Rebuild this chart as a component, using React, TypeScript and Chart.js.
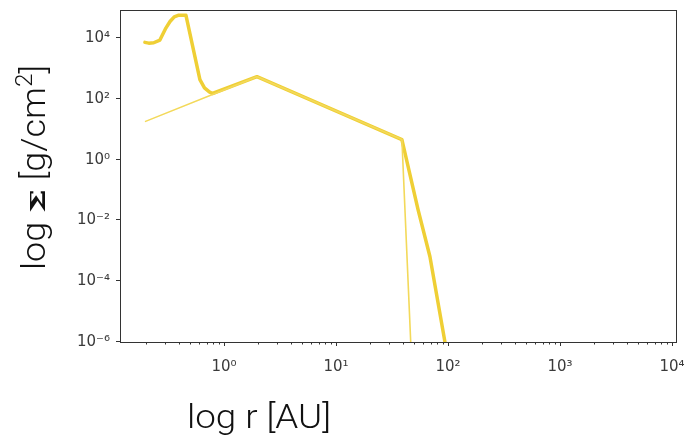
import React, { useEffect, useRef } from "react";
import { Chart, registerables } from "chart.js";

Chart.register(...registerables);

// Thick curve (r in AU, Sigma in g/cm^2)
const thickR = [0.197, 0.213, 0.236, 0.268, 0.3, 0.33, 0.36, 0.39, 0.458, 0.61, 0.67, 0.74, 0.79, 1.97, 38.8, 54, 69, 94, 110];
const thickSigma = [7200, 6800, 7000, 8600, 2.0e4, 3.5e4, 5.0e4, 5.6e4, 5.6e4, 430, 230, 170, 150, 537, 4.55, 0.023, 6.5e-4, 1.0e-6, 3.0e-8];

// Thin curve
const thinR = [0.197, 1.97, 38.8, 46.5, 48];
const thinSigma = [17.8, 537, 4.55, 1.0e-6, 1.0e-8];

// Axis tick values and labels
const xMajorTicks = [1, 10, 100, 1000, 10000];
const yMajorTicks = [1e-6, 1e-4, 1e-2, 1, 1e2, 1e4];
const xTickLabels = ["10⁰", "10¹", "10²", "10³", "10⁴"];
const yTickLabels = ["10⁻⁶", "10⁻⁴", "10⁻²", "10⁰", "10²", "10⁴"];

const X_MIN = 0.118;
const X_MAX = 1.109e4;
const Y_MIN = 1e-6;
const Y_MAX = 8.7e4;

const LINE_COLOR = "#efcf35";
const THIN_COLOR = "#f3d95a";

function drawFitted(ctx: CanvasRenderingContext2D, parts: [string, string, number, number][], cx: number, baseline: number, targetWidth: number) {
  let total = 0;
  for (const [t, f, , sx] of parts) {
    ctx.font = f;
    total += ctx.measureText(t).width * sx;
  }
  const k = targetWidth / total;
  let x = cx - targetWidth / 2;
  for (const [t, f, dy, sx] of parts) {
    ctx.font = f;
    const w = ctx.measureText(t).width * sx * k;
    ctx.save();
    ctx.translate(x, baseline + dy);
    ctx.scale(sx * k, 1);
    ctx.fillText(t, 0, 0);
    ctx.restore();
    x += w;
  }
}

const framePlugin = {
  id: "framePlugin",
  afterDraw(chart: any) {
    const ctx = chart.ctx;
    const { left, right, top, bottom } = chart.chartArea;
    const xs = chart.scales.x;
    const ys = chart.scales.y;
    ctx.save();
    ctx.strokeStyle = "#333";
    ctx.lineWidth = 1;
    ctx.strokeRect(Math.round(left) + 0.5, Math.round(top) + 0.5, Math.round(right - left) - 1, Math.round(bottom - top) - 1);
    const lo = Math.floor(Math.log10(X_MIN));
    const hi = Math.ceil(Math.log10(X_MAX));
    ctx.beginPath();
    for (let e = lo; e <= hi; e++) {
      for (let m = 1; m <= 9; m++) {
        const v = m * Math.pow(10, e);
        if (v < X_MIN || v > X_MAX) continue;
        const px = Math.round(xs.getPixelForValue(v)) + 0.5;
        const len = m === 1 ? 4 : 2.5;
        ctx.moveTo(px, Math.round(bottom));
        ctx.lineTo(px, Math.round(bottom) + len);
      }
    }
    for (const v of yMajorTicks) {
      const py = Math.round(ys.getPixelForValue(v)) - 0.5;
      ctx.moveTo(Math.round(left), py);
      ctx.lineTo(Math.round(left) - 4, py);
    }
    ctx.stroke();

    ctx.fillStyle = "#111";
    ctx.textBaseline = "alphabetic";
    const f1 = "300 34px Roboto";
    // x title
    drawFitted(ctx, [["log r [AU]", f1, 0, 1]], 259, 428, 144);

    // y title rotated
    ctx.save();
    ctx.translate(45, 167.5);
    ctx.rotate(-Math.PI / 2);
    drawFitted(
      ctx,
      [
        ["log ", f1, 0, 1],
        ["Σ", 'bold 20px "DejaVu Serif"', 0, 1.6],
        [" [g/cm", f1, 0, 1],
        ["2", "300 23px Roboto", -13, 1],
        ["]", f1, 0, 1],
      ],
      0,
      0,
      205
    );
    ctx.restore();
    ctx.restore();
  },
};

export default function App() {
  const ref = useRef<HTMLCanvasElement | null>(null);
  useEffect(() => {
    if (!ref.current) return;
    const thick = thickR.map((r, i) => ({ x: r, y: thickSigma[i] }));
    const thin = thinR.map((r, i) => ({ x: r, y: thinSigma[i] }));
    const chart = new Chart(ref.current, {
      type: "line",
      data: {
        datasets: [
          {
            data: thin,
            borderColor: THIN_COLOR,
            borderWidth: 1.6,
            pointRadius: 0,
            tension: 0,
          },
          {
            data: thick,
            borderColor: LINE_COLOR,
            borderWidth: 3.5,
            pointRadius: 0,
            tension: 0,
            borderJoinStyle: "round",
            borderCapStyle: "round",
          },
        ],
      },
      options: {
        animation: false,
        responsive: false,
        events: [],
        layout: { padding: { left: 0, right: 10, top: 9.5, bottom: 0 } },
        plugins: { legend: { display: false }, tooltip: { enabled: false } },
        scales: {
          x: {
            type: "logarithmic",
            min: X_MIN,
            max: X_MAX,
            border: { display: false },
            grid: { display: false, drawTicks: false },
            afterBuildTicks: (s: any) => {
              s.ticks = xMajorTicks.map((v) => ({ value: v }));
            },
            afterFit: (s: any) => {
              s.height = 96;
              s.paddingLeft = 0;
              s.paddingRight = 0;
            },
            ticks: {
              autoSkip: false,
              maxRotation: 0,
              padding: 16,
              color: "#3a3a3a",
              font: { family: "DejaVu Sans", size: 15 },
              callback: (v: any) => {
                const i = xMajorTicks.indexOf(Number(v));
                return i >= 0 ? xTickLabels[i] : "";
              },
            },
          },
          y: {
            type: "logarithmic",
            min: Y_MIN,
            max: Y_MAX,
            border: { display: false },
            grid: { display: false, drawTicks: false },
            afterBuildTicks: (s: any) => {
              s.ticks = yMajorTicks.map((v) => ({ value: v }));
            },
            afterFit: (s: any) => {
              s.width = 120;
              s.paddingTop = 0;
              s.paddingBottom = 0;
            },
            ticks: {
              autoSkip: false,
              padding: 10,
              color: "#3a3a3a",
              font: { family: "DejaVu Sans", size: 15 },
              callback: (v: any) => {
                const i = yMajorTicks.findIndex((t) => Math.abs(Math.log10(t) - Math.log10(Number(v))) < 1e-6);
                return i >= 0 ? yTickLabels[i] : "";
              },
            },
          },
        },
      },
      plugins: [framePlugin],
    } as any);
    return () => chart.destroy();
  }, []);
  return (
    <div style={{ position: "fixed", left: 0, top: 0, width: 687, height: 438, background: "#fff" }}>
      <canvas ref={ref} width={687} height={438} style={{ width: 687, height: 438, display: "block" }} />
    </div>
  );
}
